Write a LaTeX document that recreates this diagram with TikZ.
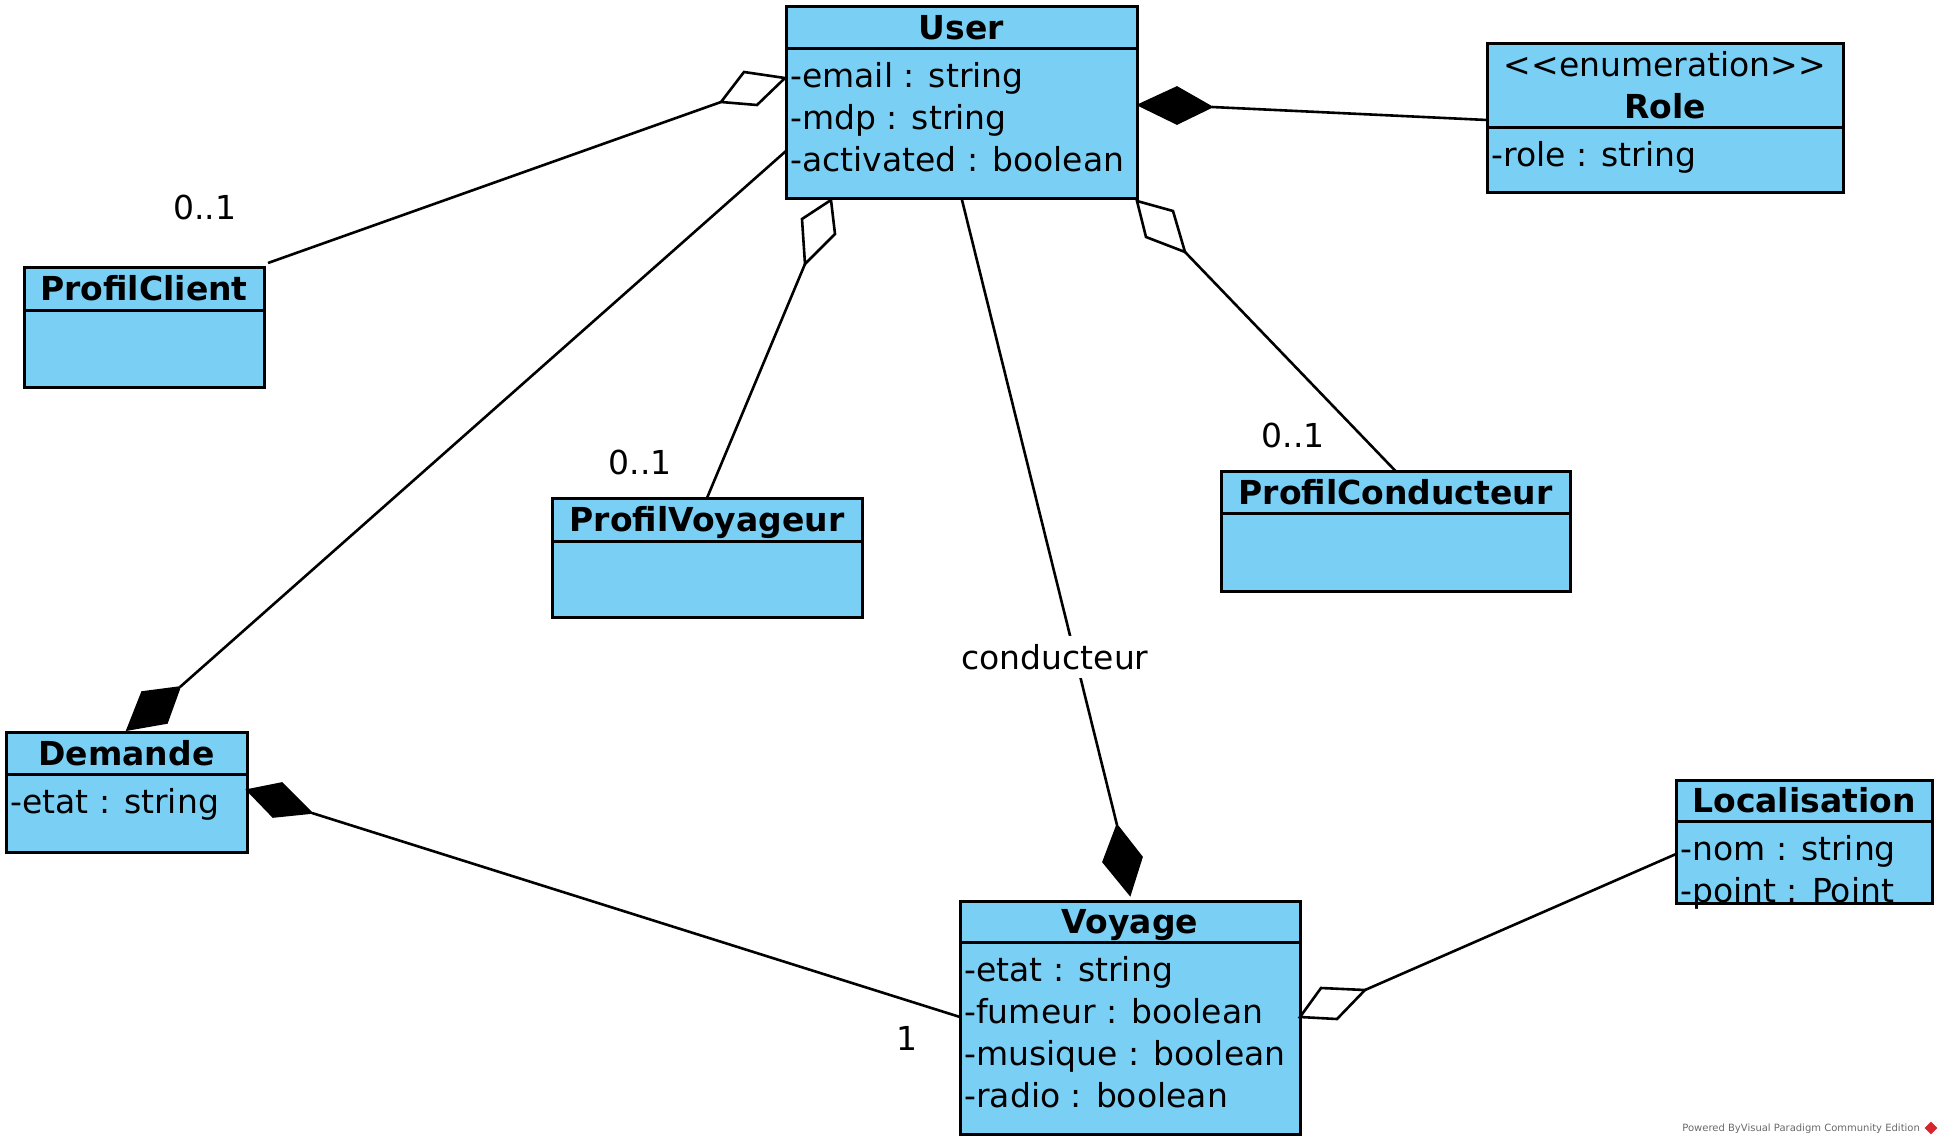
\documentclass[tikz,border=0pt]{standalone}
\usepackage{fontspec}
\setmainfont{DejaVu Sans}
\usetikzlibrary{positioning}
\definecolor{bleuVP}{RGB}{122,207,245}
\definecolor{rougeVP}{RGB}{214,38,45}
\definecolor{grisVP}{RGB}{105,105,105}
\tikzset{
  titre/.style={draw, line width=1.5pt, fill=bleuVP, inner sep=0pt, outer sep=0pt,
    anchor=north west, align=center, font=\fontsize{16.5}{21}\selectfont\bfseries},
  nom/.style={titre, text height=12pt, text depth=0pt},
  corps/.style={draw, line width=1.5pt, fill=bleuVP, inner sep=0pt, outer sep=0pt},
  attributs/.style={inner sep=0pt, align=left, font=\fontsize{16.5}{21}\selectfont},
  etiquette/.style={inner sep=1pt, font=\fontsize{16.5}{21}\selectfont},
  lien/.style={line width=1.3pt},
  agregation/.style={draw, line width=1.3pt, fill=white, line join=miter},
  composition/.style={draw, line width=0.8pt, fill=black},
}
\begin{document}
\begin{tikzpicture}[x=0.5pt, y=-0.5pt]
            \useasboundingbox (0,0) rectangle (1944,1146);

            % Les classes
            \node[nom, minimum width=175.5pt, minimum height=21pt] (userH) at (786,6) {User};
            \node[corps, minimum width=175.5pt, minimum height=75pt, below=0pt of userH] (userB) {};
            \node[attributs, below right=7pt and 2pt of userB.north west] (userA)
                {-email : string\\-mdp : string\\-activated : boolean};

            \node[titre, minimum width=178pt, minimum height=42pt] (roleH) at (1487,43)
                {{\mdseries <\kern0pt<enumeration>\kern0pt>}\\Role};
            \node[corps, minimum width=178pt, minimum height=32.5pt, below=0pt of roleH] (roleB) {};
            \node[attributs, below right=7pt and 2pt of roleB.north west] (roleA) {-role : string};

            \node[nom, minimum width=120pt, minimum height=21.5pt] (pcH) at (24,267) {ProfilClient};
            \node[corps, minimum width=120pt, minimum height=38.5pt, below=0pt of pcH] (pcB) {};

            \node[nom, minimum width=155pt, minimum height=21.5pt] (pvH) at (552,498) {ProfilVoyageur};
            \node[corps, minimum width=155pt, minimum height=38pt, below=0pt of pvH] (pvB) {};

            \node[nom, minimum width=174.5pt, minimum height=21pt] (pcoH) at (1221,471) {ProfilConducteur};
            \node[corps, minimum width=174.5pt, minimum height=39pt, below=0pt of pcoH] (pcoB) {};

            \node[nom, minimum width=120.5pt, minimum height=21pt] (demH) at (6,732) {Demande};
            \node[corps, minimum width=120.5pt, minimum height=39pt, below=0pt of demH] (demB) {};
            \node[attributs, below right=7pt and 2pt of demB.north west] (demA) {-etat : string};

            \node[nom, minimum width=128pt, minimum height=20.5pt] (locH) at (1676,780) {Localisation};
            \node[corps, minimum width=128pt, minimum height=41pt, below=0pt of locH] (locB) {};
            \node[attributs, below right=7pt and 2pt of locB.north west] (locA)
                {-nom : string\\-point : Point};

            \node[nom, minimum width=170pt, minimum height=20.5pt] (voyH) at (960,901) {Voyage};
            \node[corps, minimum width=170pt, minimum height=96pt, below=0pt of voyH] (voyB) {};
            \node[attributs, below right=7pt and 2pt of voyB.north west] (voyA)
                {-etat : string\\-fumeur : boolean\\-musique : boolean\\-radio : boolean};

            % Les losanges (sommet, cote, pointe, cote)
            \coordinate (UC1) at (785,78);   \coordinate (UC2) at (744,72);
            \coordinate (UC3) at (721,102);  \coordinate (UC4) at (757,105);
            \coordinate (UR1) at (1138,105); \coordinate (UR2) at (1177,87);
            \coordinate (UR3) at (1212,107); \coordinate (UR4) at (1177,124);
            \coordinate (UD1) at (127,730);  \coordinate (UD2) at (142,692);
            \coordinate (UD3) at (180,687);  \coordinate (UD4) at (167,723);
            \coordinate (DV1) at (247,790);  \coordinate (DV2) at (282,783);
            \coordinate (DV3) at (312,813);  \coordinate (DV4) at (273,817);
            \coordinate (UV1) at (1130,895); \coordinate (UV2) at (1103,862);
            \coordinate (UV3) at (1117,825); \coordinate (UV4) at (1142,857);
            \coordinate (UP1) at (831,200);  \coordinate (UP2) at (802,219);
            \coordinate (UP3) at (805,264);  \coordinate (UP4) at (835,234);
            \coordinate (UO1) at (1137,201); \coordinate (UO2) at (1173,211);
            \coordinate (UO3) at (1185,252); \coordinate (UO4) at (1146,237);
            \coordinate (VL1) at (1300,1017); \coordinate (VL2) at (1321,988);
            \coordinate (VL3) at (1365,990);  \coordinate (VL4) at (1337,1019);

            % Les associations
            \draw[lien] (UC3) -- ([shift={(2pt,2pt)}]pcH.north east);
            \draw[lien] (UR3) -- ([yshift=3.5pt]roleH.south west);
            \draw[lien] (UD3) -- ([yshift=-14pt]userB.west);
            \draw[lien] (DV3) -- ([yshift=10.5pt]voyB.west);
            \draw[lien] (UV3) -- (userB.south);
            \draw[lien] (UP3) -- (pvH.north);
            \draw[lien] (UO3) -- (pcoH.north);
            \draw[lien] (VL3) -- ([yshift=4pt]locB.west);

            \draw[agregation] (UC1) -- (UC2) -- (UC3) -- (UC4) -- cycle;
            \draw[composition] (UR1) -- (UR2) -- (UR3) -- (UR4) -- cycle;
            \draw[composition] (UD1) -- (UD2) -- (UD3) -- (UD4) -- cycle;
            \draw[composition] (DV1) -- (DV2) -- (DV3) -- (DV4) -- cycle;
            \draw[composition] (UV1) -- (UV2) -- (UV3) -- (UV4) -- cycle;
            \draw[agregation] (UP1) -- (UP2) -- (UP3) -- (UP4) -- cycle;
            \draw[agregation] (UO1) -- (UO2) -- (UO3) -- (UO4) -- cycle;
            \draw[agregation] (VL1) -- (VL2) -- (VL3) -- (VL4) -- cycle;

            % Multiplicites et roles
            \node[etiquette] (mulClient) at (205,207) {0..1};
            \node[etiquette] (mulVoyageur) at (640,462) {0..1};
            \node[etiquette] (mulConducteur) at (1293,435) {0..1};
            \node[etiquette] (mulVoyage) at (907,1038) {1};
            \node[etiquette, fill=white, minimum height=21pt] (roleCond) at (1055,657) {conducteur};

            % Pied de page
            \node[anchor=west, inner sep=0pt, text=grisVP, font=\fontsize{5}{6}\selectfont]
                (pied) at (1682,1129) {Powered ByVisual Paradigm Community Edition};
            \node[fill=rougeVP, rotate=45, minimum size=4.5pt, inner sep=0pt] (logoVP) at (1931,1128) {};
        \end{tikzpicture}
\end{document}
